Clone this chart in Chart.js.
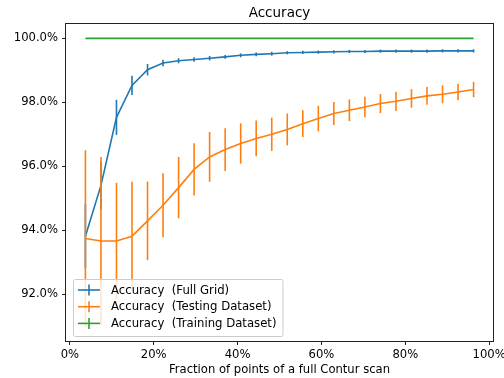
<!DOCTYPE html>
<html><head><meta charset="utf-8">
<script src="https://cdn.jsdelivr.net/npm/chart.js@4"></script>
<style>html,body{margin:0;padding:0;background:#fff;overflow:hidden}</style>
</head><body>
<canvas id="c" width="504" height="378"></canvas>
<script>
// ---- data ----
const xValues = [3.7, 7.41, 11.11, 14.81, 18.52, 22.22, 25.93, 29.63, 33.33, 37.04, 40.74, 44.44, 48.15, 51.85, 55.56, 59.26, 62.96, 66.67, 70.37, 74.07, 77.78, 81.48, 85.19, 88.89, 92.59, 96.3];
const fullGrid = [93.81, 95.4, 97.53, 98.53, 99.02, 99.23, 99.3, 99.34, 99.38, 99.42, 99.47, 99.5, 99.52, 99.55, 99.56, 99.57, 99.58, 99.59, 99.59, 99.6, 99.6, 99.6, 99.6, 99.61, 99.61, 99.61];
const fullGridErr = [1.0, 0.75, 0.55, 0.3, 0.18, 0.1, 0.08, 0.07, 0.07, 0.06, 0.06, 0.06, 0.06, 0.05, 0.05, 0.05, 0.05, 0.05, 0.05, 0.05, 0.05, 0.05, 0.05, 0.05, 0.05, 0.05];
const testing = [93.74, 93.66, 93.66, 93.81, 94.29, 94.78, 95.33, 95.9, 96.29, 96.52, 96.71, 96.87, 97.0, 97.15, 97.33, 97.49, 97.65, 97.75, 97.85, 97.96, 98.03, 98.12, 98.2, 98.25, 98.32, 98.4];
const testingErr = [2.76, 2.63, 1.82, 1.7, 1.23, 1.0, 0.96, 0.82, 0.78, 0.67, 0.63, 0.56, 0.52, 0.5, 0.42, 0.4, 0.36, 0.34, 0.32, 0.3, 0.3, 0.29, 0.28, 0.28, 0.26, 0.24];
const training = [100, 100, 100, 100, 100, 100, 100, 100, 100, 100, 100, 100, 100, 100, 100, 100, 100, 100, 100, 100, 100, 100, 100, 100, 100, 100];
const trainingErr = [0, 0, 0, 0, 0, 0, 0, 0, 0, 0, 0, 0, 0, 0, 0, 0, 0, 0, 0, 0, 0, 0, 0, 0, 0, 0];
const xTicks = [0, 20, 40, 60, 80, 100];
const yTicks = [92, 94, 96, 98, 100];
const seriesLabels = ['Accuracy  (Full Grid)', 'Accuracy  (Testing Dataset)', 'Accuracy  (Training Dataset)'];
const chartTitle = 'Accuracy';
const xTitle = 'Fraction of points of a full Contur scan';

// ---- styling ----
const colors = ['#1f77b4', '#ff7f0e', '#2ca02c'];
const FONT = 'DejaVu Sans';
const LW = 1.6;

function makeSet(label, vals, errs, color, order) {
  return {
    label, errors: errs,
    data: xValues.map((x, i) => ({x: x, y: vals[i]})),
    borderColor: color, backgroundColor: color,
    borderWidth: LW, pointRadius: 0, tension: 0, fill: false, order: order
  };
}

const errorBars = {
  id: 'errorBars',
  afterDatasetDraw(chart, args) {
    const ds = chart.data.datasets[args.index];
    const xs = chart.scales.x, ys = chart.scales.y, ctx = chart.ctx;
    ctx.save();
    ctx.strokeStyle = ds.borderColor; ctx.lineWidth = LW;
    ds.data.forEach((p, i) => {
      const e = ds.errors[i];
      if (!e) return;
      const px = xs.getPixelForValue(p.x);
      ctx.beginPath();
      ctx.moveTo(px, ys.getPixelForValue(p.y + e));
      ctx.lineTo(px, ys.getPixelForValue(p.y - e));
      ctx.stroke();
    });
    ctx.restore();
  }
};

const decor = {
  id: 'decor',
  afterDraw(chart) {
    const ctx = chart.ctx, a = chart.chartArea;
    ctx.save();
    // frame
    ctx.strokeStyle = '#222'; ctx.lineWidth = 1;
    ctx.strokeRect(Math.round(a.left) - 0.5, Math.round(a.top) - 0.5, Math.round(a.right - a.left) + 1, Math.round(a.bottom - a.top) + 1);
    // title
    ctx.fillStyle = '#000';
    ctx.font = '13.5px "' + FONT + '"';
    ctx.textAlign = 'center'; ctx.textBaseline = 'alphabetic';
    ctx.fillText(chartTitle, (a.left + a.right) / 2, 16.5);
    // legend
    ctx.font = '11.7px "' + FONT + '"';
    let tw = 0;
    chart.data.datasets.forEach(d => { tw = Math.max(tw, ctx.measureText(d.label).width); });
    const bx = a.left + 7, rowH = 16.7, bh = 57;
    const by = a.bottom - 5 - bh;
    const bw = 5 + 22 + 11 + tw + 6;
    ctx.beginPath();
    if (ctx.roundRect) ctx.roundRect(bx + 0.5, by + 0.5, bw, bh, 2); else ctx.rect(bx + 0.5, by + 0.5, bw, bh);
    ctx.fillStyle = 'rgba(255,255,255,0.8)'; ctx.fill();
    ctx.strokeStyle = '#cccccc'; ctx.lineWidth = 1; ctx.stroke();
    chart.data.datasets.forEach((d, i) => {
      const cy = by + 11 + i * rowH;
      const hx = bx + 5;
      ctx.strokeStyle = d.borderColor; ctx.lineWidth = LW;
      ctx.beginPath(); ctx.moveTo(hx, cy); ctx.lineTo(hx + 22, cy); ctx.stroke();
      ctx.beginPath(); ctx.moveTo(hx + 11, cy - 5.5); ctx.lineTo(hx + 11, cy + 5.5); ctx.stroke();
      ctx.fillStyle = '#000'; ctx.textAlign = 'left'; ctx.textBaseline = 'middle';
      ctx.fillText(d.label, hx + 33, cy + 0.5);
    });
    ctx.restore();
  }
};

new Chart(document.getElementById('c'), {
  type: 'line',
  data: {
    datasets: [
      makeSet(seriesLabels[0], fullGrid, fullGridErr, colors[0], 2),
      makeSet(seriesLabels[1], testing, testingErr, colors[1], 1),
      makeSet(seriesLabels[2], training, trainingErr, colors[2], 0)
    ]
  },
  options: {
    responsive: false, animation: false, devicePixelRatio: 1,
    layout: {padding: {top: 24, right: 11, bottom: 0, left: 0}},
    plugins: {legend: {display: false}, title: {display: false}, tooltip: {enabled: false}},
    scales: {
      x: {
        type: 'linear', min: -0.93, max: 100.93,
        afterBuildTicks: s => { s.ticks = xTicks.map(v => ({value: v})); },
        afterFit: s => { s.height = 37; s.paddingLeft = 0; s.paddingRight = 0; },
        grid: {drawOnChartArea: false, tickLength: 4, color: '#222'},
        border: {display: false},
        ticks: {padding: 3, color: '#000', font: {family: FONT, size: 11.6}, maxRotation: 0, autoSkip: false,
                callback: v => v + '%'},
        title: {display: true, text: xTitle, color: '#000', font: {family: FONT, size: 11.6}, padding: {top: 0, bottom: 1}}
      },
      y: {
        type: 'linear', min: 90.53, max: 100.45,
        afterBuildTicks: s => { s.ticks = yTicks.map(v => ({value: v})); },
        afterFit: s => { s.width = 66; s.paddingTop = 0; s.paddingBottom = 0; },
        grid: {drawOnChartArea: false, tickLength: 4, color: '#222'},
        border: {display: false},
        ticks: {padding: 4, color: '#000', font: {family: FONT, size: 11.6}, autoSkip: false,
                callback: v => v.toFixed(1) + '%'}
      }
    }
  },
  plugins: [errorBars, decor]
});
</script>
</body></html>
